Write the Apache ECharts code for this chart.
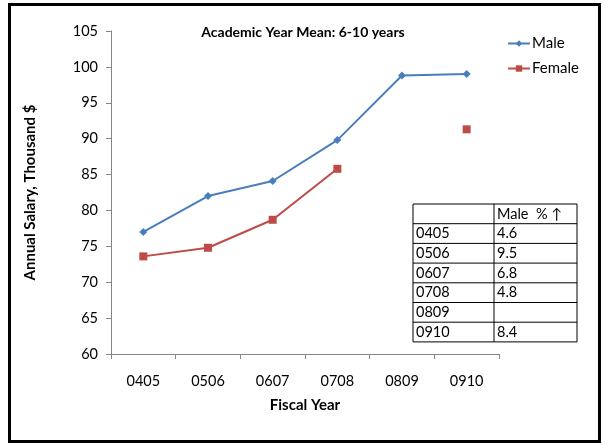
<!DOCTYPE html>
<html>
<head>
<meta charset="utf-8">
<script src="https://cdn.jsdelivr.net/npm/echarts@6/dist/echarts.min.js"></script>
<style>
html,body{margin:0;padding:0;background:#fff;}
#main{width:605px;height:445px;}
</style>
</head>
<body>
<div id="main"></div>
<script>
// categories and values
var years = ['0405', '0506', '0607', '0708', '0809', '0910'];
var male = [77.0, 82.0, 84.1, 89.8, 98.8, 99.0];
var female = [73.6, 74.8, 78.7, 85.8, null, 91.3];
// table: Male % increase
var pctYears = ['0405', '0506', '0607', '0708', '0809', '0910'];
var pctMale = ['4.6', '9.5', '6.8', '4.8', '', '8.4'];

var font = 'Lato, "Open Sans", sans-serif';

// build the little table as graphic elements
function tableGraphic(){
    var x0 = 413, x1 = 494, x2 = 577, y0 = 204, rh = 19.7;
    var els = [];
    var rows = pctYears.length + 1;
    els.push({type:'rect', shape:{x:x0, y:y0, width:x2-x0, height:rh*rows},
        style:{fill:'#fff', stroke:'#000', lineWidth:1}});
    for(var i=1;i<rows;i++){
        els.push({type:'line', shape:{x1:x0, y1:y0+rh*i, x2:x2, y2:y0+rh*i},
            style:{stroke:'#000', lineWidth:1}});
    }
    els.push({type:'line', shape:{x1:x1, y1:y0, x2:x1, y2:y0+rh*rows},
        style:{stroke:'#000', lineWidth:1}});
    els.push({type:'text', x:x1+3, y:y0+rh/2, style:{text:'Male  % \u2191', fontSize:14.5,
        fontFamily:font, fill:'#000', verticalAlign:'middle'}});
    for(var j=0;j<pctYears.length;j++){
        var yy = y0 + rh*(j+1) + rh/2;
        els.push({type:'text', x:x0+3, y:yy, style:{text:pctYears[j], fontSize:14.5,
            fontFamily:font, fill:'#000', verticalAlign:'middle'}});
        els.push({type:'text', x:x1+3, y:yy, style:{text:pctMale[j], fontSize:14.5,
            fontFamily:font, fill:'#000', verticalAlign:'middle'}});
    }
    return els;
}

var myChart = echarts.init(document.getElementById('main'));
var option = {
    backgroundColor: '#fff',
    animation: false,
    title: {
        text: 'Academic Year Mean: 6-10 years',
        left: 298,
        textAlign: 'center',
        top: 20,
        textStyle: {fontSize: 14, fontWeight: 'bold', fontFamily: font, color: '#000'}
    },
    legend: {
        orient: 'vertical',
        left: 502,
        top: 31,
        itemWidth: 22,
        itemHeight: 8,
        itemGap: 10,
        textStyle: {fontSize: 15, fontFamily: font, color: '#000', padding: [0, 0, 0, -3]},
        data: ['Male', 'Female']
    },
    grid: {left: 111, right: 106, top: 31, bottom: 91},
    xAxis: {
        type: 'category',
        data: years,
        name: 'Fiscal Year',
        nameLocation: 'middle',
        nameGap: 44,
        nameTextStyle: {fontSize: 15, fontWeight: 'bold', fontFamily: font, color: '#000'},
        axisLine: {lineStyle: {color: '#868686'}},
        axisTick: {show: true, length: 5, lineStyle: {color: '#868686'}},
        axisLabel: {fontSize: 14.5, fontFamily: font, color: '#000', margin: 20}
    },
    yAxis: {
        type: 'value',
        min: 60,
        max: 105,
        interval: 5,
        name: 'Annual Salary, Thousand $',
        nameLocation: 'middle',
        nameGap: 73,
        nameTextStyle: {fontSize: 15, fontWeight: 'bold', fontFamily: font, color: '#000'},
        axisLine: {show: true, lineStyle: {color: '#868686'}},
        axisTick: {show: true, length: 5, lineStyle: {color: '#868686'}},
        axisLabel: {fontSize: 14.5, fontFamily: font, color: '#000', margin: 13},
        splitLine: {show: false}
    },
    series: [
        {
            name: 'Male',
            type: 'line',
            data: male,
            symbol: 'diamond',
            symbolSize: 8,
            itemStyle: {color: '#4a7ebb'},
            lineStyle: {color: '#4a7ebb', width: 2}
        },
        {
            name: 'Female',
            type: 'line',
            data: female,
            symbol: 'rect',
            symbolSize: 8,
            connectNulls: false,
            itemStyle: {color: '#be4b48'},
            lineStyle: {color: '#be4b48', width: 2}
        }
    ],
    graphic: [
        {type: 'rect', shape: {x: 9.5, y: 4.5, width: 590, height: 437},
            style: {fill: null, stroke: '#000', lineWidth: 3}, z: 100},
        {type: 'group', children: tableGraphic(), z: 50}
    ]
};
myChart.setOption(option);
</script>
</body>
</html>
